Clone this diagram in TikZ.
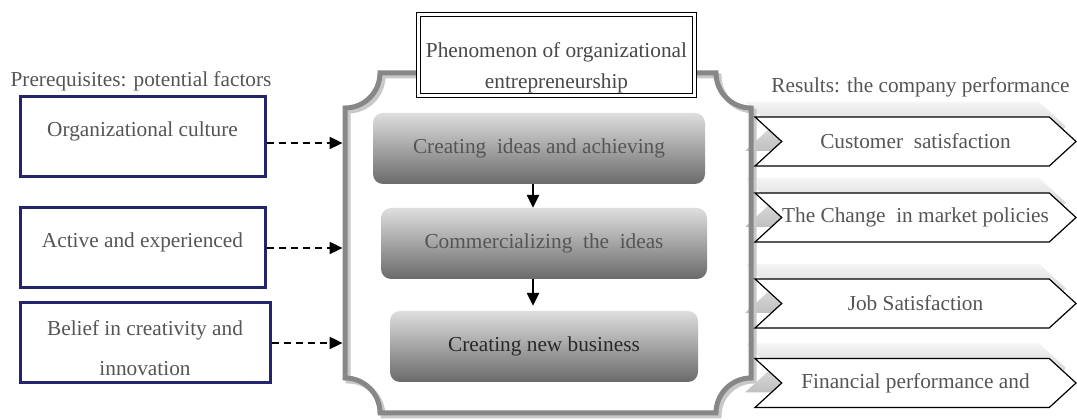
\documentclass[tikz,border=0pt]{standalone}
\usepackage{fontspec}
\setmainfont{Liberation Serif}
\usetikzlibrary{shapes.symbols,arrows.meta}

\definecolor{navy}{RGB}{35,35,110}
\definecolor{framegray}{RGB}{135,135,135}
\definecolor{frameshade}{RGB}{200,200,200}
\definecolor{txtgray}{RGB}{85,85,85}
\definecolor{darktxt}{RGB}{40,40,40}
\definecolor{boxtop}{RGB}{222,222,222}
\definecolor{boxmid}{RGB}{192,192,192}
\definecolor{boxbot}{RGB}{106,106,106}

% outline of the plaque-shaped frame (concave corners)
\def\plaquepath{(380,347) -- (716,347) arc[start angle=180, end angle=270, radius=35]
  -- (751,42) arc[start angle=90, end angle=180, radius=35]
  -- (380,7) arc[start angle=0, end angle=90, radius=35]
  -- (345,312) arc[start angle=270, end angle=360, radius=35] -- cycle}

\begin{document}
\begin{tikzpicture}[x=1pt,y=1pt,
  every node/.style={font=\fontsize{21.3}{25}\selectfont, text=txtgray, inner sep=0pt},
  factor/.style={draw=navy, line width=3pt, fill=white, minimum height=80pt},
  stage/.style={rounded corners=10pt, top color=boxtop, middle color=boxmid,
    bottom color=boxbot, minimum height=71pt},
  result/.style={signal, signal from=west, signal to=east, signal pointer angle=85,
    draw=black, line width=1.2pt, fill=white, minimum width=321pt, minimum height=49pt},
  resultshade/.style={signal, signal from=west, signal to=east, signal pointer angle=85,
    top color=gray!8, bottom color=gray!50, minimum width=321pt, minimum height=49pt},
  dasharrow/.style={dash pattern=on 7pt off 5pt, line width=2.4pt,
    -{Triangle[length=13pt,width=12pt]}},
  flowarrow/.style={line width=2.4pt, -{Triangle[length=13pt,width=12pt]}},
]
\useasboundingbox (0,0) rectangle (1077,420);

% shadows behind the result arrows
\node[resultshade] (s1) at (905.5,293.5) {};
\node[resultshade] (s2) at (905.5,217.5) {};
\node[resultshade] (s3) at (905.5,131.5) {};
\node[resultshade] (s4) at (905.5,52) {};

% frame around the phenomenon
\draw[frameshade, line width=5pt, shift={(3,-3)}] \plaquepath;
\draw[framegray, line width=5pt] \plaquepath;
\coordinate (fleft) at (342.5,0);

% title of the frame
\node[draw=black, double, double distance=2.5pt, line width=1.4pt, fill=white,
  minimum width=276pt, minimum height=81pt] (phen) at (556.5,365) {};
\node[anchor=base, text=darktxt!85] (phen1) at (556.5,362) {Phenomenon of organizational};
\node[anchor=base, text=darktxt!85] (phen2) at (556.5,331) {entrepreneurship};

% stages of the phenomenon
\node[stage, minimum width=332pt] (st1) at (539,271.5) {Creating\ \ ideas and achieving};
\node[stage, minimum width=326pt] (st2) at (544,176.5) {Commercializing\ \ the\ \ ideas};
\node[stage, minimum width=308pt, text=darktxt] (st3) at (544,73.5) {Creating new business};
\draw[flowarrow] ([xshift=-6pt]st1.south) -- ([xshift=-6pt]st1.south |- st2.north);
\draw[flowarrow] ([xshift=-11pt]st2.south) -- ([xshift=-11pt,yshift=5pt]st2.south |- st3.north);

% prerequisites
\node[anchor=base] (prereq) at (141,333) {Prerequisites: potential factors};
\node[factor, minimum width=245pt] (f1) at (142.5,283) {};
\node[anchor=base] (f1t) at (142.5,283) {Organizational culture};
\node[factor, minimum width=245pt] (f2) at (142.5,172.5) {};
\node[anchor=base] (f2t) at (142.5,172) {Active and experienced};
\node[factor, minimum width=250pt] (f3) at (145,77) {};
\node[anchor=base] (f3t) at (145,84) {Belief in creativity and};
\node[anchor=base] (f3u) at (145,44) {innovation};

\draw[dasharrow] ([yshift=-6pt]f1.east) -- ([yshift=-6pt]f1.east -| fleft);
\draw[dasharrow] ([yshift=-0.5pt]f2.east) -- ([yshift=-0.5pt]f2.east -| fleft);
\draw[dasharrow] (f3.east) -- (f3.east -| fleft);

% results
\node[anchor=base] (res) at (920.5,327) {Results: the company performance};
\node[result] (r1) at (915.5,278.5) {Customer\ \ satisfaction};
\node[result] (r2) at (915.5,202.5) {The Change\ \ in market policies};
\node[result] (r3) at (915.5,116.5) {Job Satisfaction};
\node[result] (r4) at (915.5,37) {Financial performance and};
\end{tikzpicture}
\end{document}
